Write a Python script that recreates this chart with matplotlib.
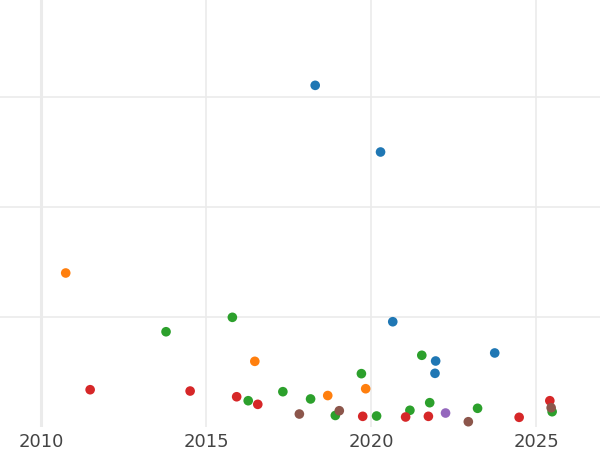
import matplotlib
matplotlib.use("Agg")
import matplotlib.pyplot as plt

blue_x = [2018.30, 2020.28, 2020.65, 2021.95, 2021.93, 2023.74]
blue_y = [3.106, 2.50, 0.957, 0.60, 0.488, 0.673]

orange_x = [2010.74, 2016.47, 2018.68, 2019.83]
orange_y = [1.40, 0.597, 0.286, 0.348]

green_x = [2013.78, 2015.79, 2016.27, 2017.32, 2018.16, 2018.91, 2019.70,
           2020.16, 2021.17, 2021.53, 2021.77, 2023.22, 2025.48]
green_y = [0.866, 0.997, 0.239, 0.321, 0.255, 0.105, 0.485,
           0.100, 0.152, 0.652, 0.221, 0.170, 0.139]

red_x = [2011.48, 2014.51, 2015.92, 2016.56, 2019.74, 2021.04, 2021.73, 2024.48, 2025.41]
red_y = [0.339, 0.327, 0.275, 0.206, 0.097, 0.091, 0.097, 0.088, 0.239]

purple_x = [2022.25]
purple_y = [0.127]

brown_x = [2017.82, 2019.03, 2022.94, 2025.45]
brown_y = [0.118, 0.148, 0.048, 0.175]

x_ticks = [2010, 2015, 2020, 2025]
y_grid = [1, 2, 3]

series = [
    (blue_x, blue_y, "#1f77b4"),
    (orange_x, orange_y, "#ff7f0e"),
    (green_x, green_y, "#2ca02c"),
    (red_x, red_y, "#d62728"),
    (purple_x, purple_y, "#9467bd"),
    (brown_x, brown_y, "#8c564b"),
]

fig = plt.figure(figsize=(6, 4.5), dpi=100)
ax = fig.add_axes([0, 23 / 450, 1, 427 / 450])
ax.set_xlim(2010 - 41.3 / 33, 2010 + (600 - 41.3) / 33)
ax.set_ylim(0, 427 / 110)

for xs, ys, c in series:
    ax.scatter(xs, ys, s=48, color=c, edgecolors="none", zorder=3)

ax.set_xticks(x_ticks)
ax.set_xticklabels([str(t) for t in x_ticks])
ax.set_yticks(y_grid)
ax.set_yticklabels([])
ax.grid(True, color="#ebebeb", linewidth=1.2, zorder=0)
ax.axvline(2010, color="#ebebeb", linewidth=2.2, zorder=0)
ax.tick_params(axis="both", length=0)
ax.tick_params(axis="x", labelsize=13, labelcolor="#444444", pad=4)
for sp in ax.spines.values():
    sp.set_visible(False)
ax.set_axisbelow(True)

fig.savefig("out.png", dpi=100)
